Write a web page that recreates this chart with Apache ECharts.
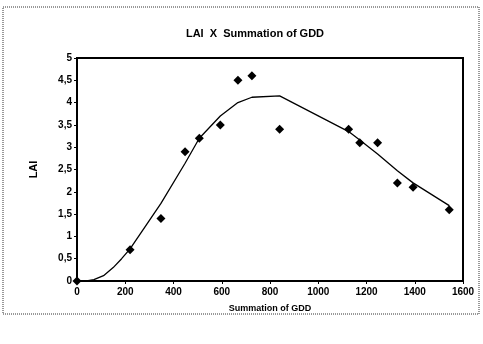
<!DOCTYPE html>
<html>
<head>
<meta charset="utf-8">
<script src="https://cdn.jsdelivr.net/npm/echarts@6/dist/echarts.min.js"></script>
<style>
  html, body { margin: 0; padding: 0; background: #fff; }
  #container { width: 483px; height: 344px; }
</style>
</head>
<body>
<div id="container"></div>
<script>
// observed LAI values
var gdd = [0, 220, 348, 448, 507, 594, 667, 725, 840, 1126, 1172, 1246, 1328, 1393, 1543];
var lai = [0, 0.7, 1.4, 2.9, 3.2, 3.5, 4.5, 4.6, 3.4, 3.4, 3.1, 3.1, 2.2, 2.1, 1.6];

// fitted curve
var fitX = [0, 40, 70, 110, 150, 185, 220, 348, 448, 507, 594, 667, 725, 840, 1126, 1172, 1246, 1328, 1393, 1543];
var fitY = [0, 0, 0.03, 0.12, 0.3, 0.5, 0.72, 1.74, 2.64, 3.2, 3.7, 4.0, 4.12, 4.15, 3.35, 3.16, 2.85, 2.47, 2.2, 1.69];

var dom = document.getElementById('container');
var myChart = echarts.init(dom, null, { renderer: 'canvas' });

var font = 'Liberation Sans, Arial, sans-serif';

var option = {
  backgroundColor: '#fff',
  animation: false,
  title: {
    text: 'LAI  X  Summation of GDD',
    left: 250,
    textAlign: 'center',
    top: 23,
    textStyle: { fontFamily: font, fontWeight: 'bold', fontSize: 11, color: '#000' }
  },
  graphic: [
    {
      type: 'rect',
      shape: { x: 3, y: 7, width: 476, height: 307 },
      style: { fill: 'none', stroke: '#333', lineWidth: 1, lineDash: [1, 1] }
    }
  ],
  grid: { left: 77, right: 20, top: 58, bottom: 63, show: true, borderColor: '#000', borderWidth: 2 },
  xAxis: {
    type: 'value',
    min: 0,
    max: 1600,
    interval: 200,
    name: 'Summation of GDD',
    nameLocation: 'middle',
    nameGap: 23,
    nameTextStyle: { fontFamily: font, fontWeight: 'bold', fontSize: 9, color: '#000' },
    axisLine: { lineStyle: { color: '#000', width: 2 } },
    axisTick: { show: true, length: 3, lineStyle: { color: '#000' } },
    axisLabel: {
      fontFamily: font, fontWeight: 'bold', fontSize: 10, color: '#000', margin: 6,
      formatter: function (v) { return String(v); }
    },
    splitLine: { show: false }
  },
  yAxis: {
    type: 'value',
    min: 0,
    max: 5,
    interval: 0.5,
    name: 'LAI',
    nameLocation: 'middle',
    nameGap: 38,
    nameTextStyle: { fontFamily: font, fontWeight: 'bold', fontSize: 11, color: '#000' },
    axisLine: { lineStyle: { color: '#000', width: 2 } },
    axisTick: { show: true, length: 3, lineStyle: { color: '#000' } },
    axisLabel: {
      fontFamily: font, fontWeight: 'bold', fontSize: 10, color: '#000', margin: 5,
      formatter: function (v) { return String(v).replace('.', ','); }
    },
    splitLine: { show: false }
  },
  series: [
    {
      type: 'line',
      data: fitX.map(function (x, i) { return [x, fitY[i]]; }),
      showSymbol: false,
      symbol: 'none',
      lineStyle: { color: '#000', width: 1.3 },
      z: 2
    },
    {
      type: 'scatter',
      data: gdd.map(function (x, i) { return [x, lai[i]]; }),
      symbol: 'diamond',
      symbolSize: 9,
      itemStyle: { color: '#000', opacity: 1 },
      z: 3
    }
  ]
};

myChart.setOption(option);
window.addEventListener('resize', myChart.resize);
</script>
</body>
</html>
